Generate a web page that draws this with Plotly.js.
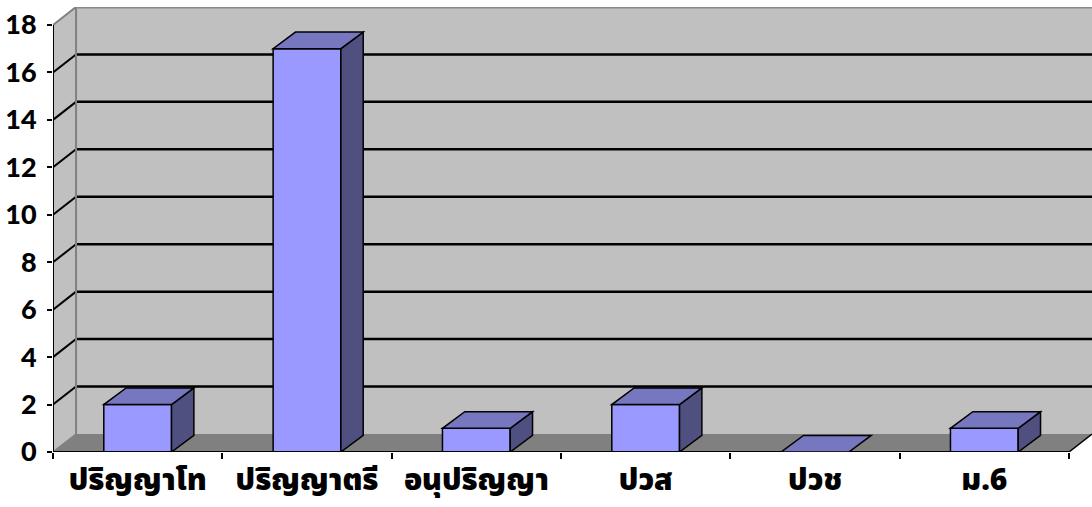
<!DOCTYPE html>
<html>
<head>
<meta charset="utf-8">
<script src="https://cdn.plot.ly/plotly-3.0.1.min.js"></script>
<style>html,body{margin:0;padding:0;background:#fff;}#chart{width:1092px;height:507px;}</style>
</head>
<body>
<div id="chart"></div>
<script>
// ---- data ----
const categories = ['ปริญญาโท', 'ปริญญาตรี', 'อนุปริญญา', 'ปวส', 'ปวช', 'ม.6'];
const values = [2, 17, 1, 2, 0, 1];
const yTickVals = [0, 2, 4, 6, 8, 10, 12, 14, 16, 18];
const yTickText = ['0', '2', '4', '6', '8', '10', '12', '14', '16', '18'];

// ---- geometry / style ----
const xs = categories.map((c, i) => i);
const nCat = categories.length;
const yMax = 18;
const wdx = 0.136, wdy = 0.76;   // wall depth offset (axis units)
const bdx = 0.132, bdy = 0.70;   // bar depth offset
const bw = 0.40;                 // bar width
const xLo = -0.5, xHi = nCat - 0.5;
const xRangeMax = xLo + 1039 / 169.33;
const yRangeMax = yMax + 18 / 23.72;

const shapes = [];
function poly(pts, fill, lineColor, lineWidth, layer) {
  const d = 'M ' + pts.map(p => p[0] + ',' + p[1]).join(' L ') + ' Z';
  shapes.push({type: 'path', xref: 'x', yref: 'y', path: d, fillcolor: fill,
    line: {color: lineColor, width: lineWidth}, layer: layer});
}
function seg(x0, y0, x1, y1, color, width, layer) {
  shapes.push({type: 'line', xref: 'x', yref: 'y', x0: x0, y0: y0, x1: x1, y1: y1,
    line: {color: color, width: width}, layer: layer});
}

// back wall
poly([[xLo + wdx, wdy], [xRangeMax + 1, wdy], [xRangeMax + 1, yMax + wdy], [xLo + wdx, yMax + wdy]], '#c0c0c0', 'rgba(0,0,0,0)', 0, 'below');
// left side wall
poly([[xLo, 0], [xLo + wdx, wdy], [xLo + wdx, yMax + wdy], [xLo, yMax]], '#c0c0c0', 'rgba(0,0,0,0)', 0, 'below');
// floor
poly([[xLo, 0], [xHi, 0], [xHi + wdx, wdy], [xLo + wdx, wdy]], '#808080', 'rgba(0,0,0,0)', 0, 'below');
// gridlines
yTickVals.forEach(v => {
  if (v > 0 && v < yMax) {
    seg(xLo, v, xLo + wdx, v + wdy, '#000', 2, 'below');
    seg(xLo + wdx, v + wdy, xRangeMax + 1, v + wdy, '#000', 2.5, 'below');
  }
});
// wall edges (grey)
seg(xLo + wdx, wdy, xLo + wdx, yMax + wdy, '#808080', 2, 'below');
seg(xLo, yMax, xLo + wdx, yMax + wdy, '#808080', 2, 'below');
seg(xLo + wdx, yMax + wdy, xRangeMax + 1, yMax + wdy, '#8a8a8a', 3, 'below');
seg(xLo, 0, xLo + wdx, wdy, '#808080', 1.5, 'below');
// front axes
seg(xLo, 0, xLo, yMax, '#000', 2, 'above');
seg(xLo, 0, xHi, 0, '#000', 2, 'above');
seg(xHi, 0, xHi + wdx, wdy, '#000', 1.5, 'above');

// bar top & side faces
values.forEach((v, i) => {
  const l = i - bw / 2, r = i + bw / 2;
  if (v > 0) {
    poly([[r, 0], [r, v], [r + bdx, v + bdy], [r + bdx, bdy]], '#4f4f80', '#000', 1.5, 'above');
  }
  poly([[l, v], [r, v], [r + bdx, v + bdy], [l + bdx, v + bdy]], '#7777c0', '#000', 1.5, 'above');
});

const traces = [{
  type: 'bar', x: xs, y: values, width: bw,
  marker: {color: '#9999ff', line: {color: '#000', width: 1.5}},
  hoverinfo: 'skip'
}];

const layout = {
  width: 1092, height: 507,
  margin: {l: 53, r: 0, t: 7, b: 55, pad: 0},
  paper_bgcolor: '#ffffff', plot_bgcolor: 'rgba(0,0,0,0)',
  showlegend: false,
  xaxis: {
    type: 'linear', range: [xLo, xRangeMax], tickmode: 'array',
    tickvals: xs, ticktext: categories, ticks: '', showgrid: false, zeroline: false, showline: false,
    ticklabelstandoff: 7,
    tickfont: {family: 'Noto Sans Thai, Noto Sans, Lato, sans-serif', size: 30, color: '#000', weight: 900},
    minor: {tickmode: 'array', tickvals: [-0.5, 0.5, 1.5, 2.5, 3.5, 4.5, 5.5], ticks: 'outside', ticklen: 6, tickwidth: 2, tickcolor: '#000', showgrid: false},
    fixedrange: true
  },
  yaxis: {
    range: [0, yRangeMax], tickmode: 'array', tickvals: yTickVals, ticktext: yTickText,
    ticks: 'outside', ticklen: 5, tickwidth: 2, tickcolor: '#000', showgrid: false, zeroline: false, showline: false,
    ticklabelstandoff: 5,
    tickfont: {family: 'Lato, sans-serif', size: 27, color: '#000', weight: 900},
    fixedrange: true
  },
  shapes: shapes,
  bargap: 0
};

Plotly.newPlot('chart', traces, layout, {displayModeBar: false, staticPlot: true});
</script>
</body>
</html>
